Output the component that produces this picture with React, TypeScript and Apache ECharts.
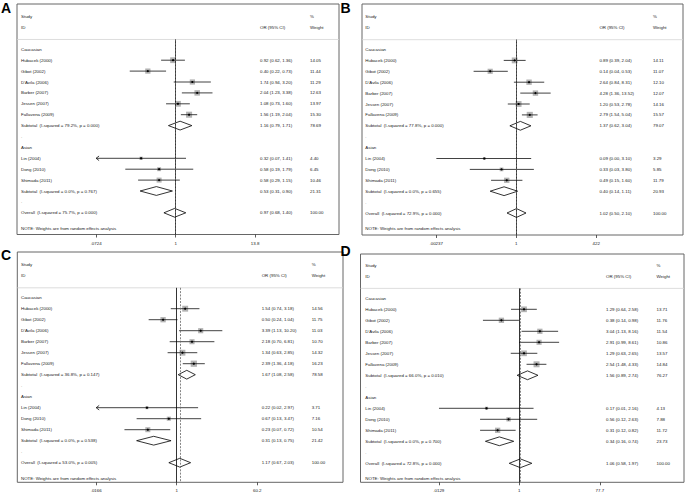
import React, { useEffect, useRef } from "react";
import * as echarts from "echarts";

// ---------- data ----------
const studies = ["Hubacek (2000)", "Gibot (2002)", "D'Avila (2006)", "Barber (2007)", "Jessen (2007)", "Fallavena (2009)", "Lin (2004)", "Dong (2010)", "Shimada (2011)"];
const studyGroup = ["Caucasian", "Caucasian", "Caucasian", "Caucasian", "Caucasian", "Caucasian", "Asian", "Asian", "Asian"];
const groups = ["Caucasian", "Asian"];
const panelLetters = ["A", "B", "C", "D"];

// Panel A
const orA = [0.92, 0.40, 1.74, 2.04, 1.08, 1.56, 0.32, 0.58, 0.58];
const loA = [0.62, 0.22, 0.94, 1.23, 0.73, 1.19, 0.07, 0.19, 0.29];
const hiA = [1.36, 0.73, 3.20, 3.38, 1.60, 2.04, 1.41, 1.79, 1.15];
const wtA = [14.05, 11.44, 11.29, 12.63, 13.97, 15.30, 4.40, 6.45, 10.46];
const subOrA = [1.16, 0.53];
const subLoA = [0.79, 0.31];
const subHiA = [1.71, 0.90];
const subWtA = [78.69, 21.31];
const subI2A = [79.2, 0.0];
const subPA = [0.000, 0.767];
const overallA = [0.97, 0.68, 1.40];
const overallStatsA = [75.7, 0.000];
const ticksA = [".0724", "1", "13.8"];

// Panel B
const orB = [0.89, 0.14, 2.64, 4.28, 1.20, 2.79, 0.09, 0.33, 0.49];
const loB = [0.39, 0.04, 0.84, 1.36, 0.53, 1.54, 0.0024, 0.03, 0.15];
const hiB = [2.04, 0.53, 8.31, 13.52, 2.78, 5.04, 3.10, 3.80, 1.60];
const wtB = [14.11, 11.07, 12.10, 12.07, 14.16, 15.57, 3.29, 5.85, 11.79];
const subOrB = [1.37, 0.40];
const subLoB = [0.62, 0.14];
const subHiB = [3.04, 1.11];
const subWtB = [79.07, 20.93];
const subI2B = [77.8, 0.0];
const subPB = [0.000, 0.655];
const overallB = [1.02, 0.50, 2.10];
const overallStatsB = [72.9, 0.000];
const ticksB = [".00237", "1", "422"];

// Panel C
const orC = [1.54, 0.50, 3.39, 2.18, 1.34, 2.39, 0.22, 0.67, 0.23];
const loC = [0.74, 0.24, 1.13, 0.70, 0.63, 1.36, 0.016, 0.13, 0.07];
const hiC = [3.18, 1.04, 10.20, 6.81, 2.85, 4.18, 2.97, 3.47, 0.72];
const wtC = [14.56, 11.75, 11.03, 10.70, 14.32, 16.23, 3.71, 7.16, 10.54];
const subOrC = [1.67, 0.31];
const subLoC = [1.08, 0.13];
const subHiC = [2.58, 0.75];
const subWtC = [78.58, 21.42];
const subI2C = [36.8, 0.0];
const subPC = [0.147, 0.538];
const overallC = [1.17, 0.67, 2.03];
const overallStatsC = [53.0, 0.005];
const ticksC = [".0166", "1", "60.2"];

// Panel D
const orD = [1.29, 0.38, 3.04, 2.91, 1.29, 2.54, 0.17, 0.56, 0.31];
const loD = [0.64, 0.14, 1.13, 0.99, 0.63, 1.48, 0.013, 0.12, 0.12];
const hiD = [2.58, 0.98, 8.16, 8.61, 2.65, 4.33, 2.16, 2.63, 0.82];
const wtD = [13.71, 11.76, 11.54, 10.86, 13.57, 14.84, 4.13, 7.88, 11.72];
const subOrD = [1.56, 0.34];
const subLoD = [0.89, 0.16];
const subHiD = [2.74, 0.74];
const subWtD = [76.27, 23.73];
const subI2D = [66.0, 0.0];
const subPD = [0.010, 0.700];
const overallD = [1.06, 0.58, 1.97];
const overallStatsD = [72.8, 0.000];
const ticksD = [".0129", "1", "77.7"];

const panelData = [
  { or: orA, lo: loA, hi: hiA, wt: wtA, subOr: subOrA, subLo: subLoA, subHi: subHiA, subWt: subWtA, subI2: subI2A, subP: subPA, overall: overallA, overallStats: overallStatsA, ticks: ticksA },
  { or: orB, lo: loB, hi: hiB, wt: wtB, subOr: subOrB, subLo: subLoB, subHi: subHiB, subWt: subWtB, subI2: subI2B, subP: subPB, overall: overallB, overallStats: overallStatsB, ticks: ticksB },
  { or: orC, lo: loC, hi: hiC, wt: wtC, subOr: subOrC, subLo: subLoC, subHi: subHiC, subWt: subWtC, subI2: subI2C, subP: subPC, overall: overallC, overallStats: overallStatsC, ticks: ticksC },
  { or: orD, lo: loD, hi: hiD, wt: wtD, subOr: subOrD, subLo: subLoD, subHi: subHiD, subWt: subWtD, subI2: subI2D, subP: subPD, overall: overallD, overallStats: overallStatsD, ticks: ticksD },
];

// ---------- layout ----------
const layouts = [
  { boxL: 17, boxT: 4, boxR: 339, boxB: 234.5, cx: 175.6, half: 79.5, row0: 49.3, rowH: 10.9, colL: 21, colCI: 260, colW: 310, letterX: 1, letterY: 0.5 },
  { boxL: 362, boxT: 4, boxR: 683, boxB: 235, cx: 516.2, half: 80, row0: 49.5, rowH: 10.9, colL: 365.3, colCI: 599.4, colW: 653, letterX: 340.5, letterY: 0.5 },
  { boxL: 17.3, boxT: 252, boxR: 343, boxB: 482.3, cx: 176.7, half: 80.5, row0: 297.7, rowH: 11.0, colL: 21, colCI: 261.7, colW: 311.7, letterX: 1, letterY: 247.5 },
  { boxL: 360.5, boxT: 254, boxR: 684, boxB: 482.3, cx: 519.3, half: 80.5, row0: 298.3, rowH: 11.0, colL: 365.3, colCI: 606, colW: 656.5, letterX: 340.5, letterY: 244 },
];

const FONT = '"Liberation Sans", Arial, Helvetica, sans-serif';
const FS = 4.4;
const SEP_ROW = -0.9;

type Row = {
  r: number;
  kind: "text" | "study" | "pooled";
  texts: { col: "L" | "CI" | "W"; s: string }[];
  or?: number;
  lo?: number;
  hi?: number;
  wt?: number;
};

const ciText = (o: number, l: number, h: number) => `${o.toFixed(2)} (${l.toFixed(2)}, ${h.toFixed(2)})`;

function buildRows(d: any): Row[] {
  const rows: Row[] = [];
  rows.push({ r: -3, kind: "text", texts: [{ col: "L", s: "Study" }, { col: "W", s: "%" }] });
  rows.push({ r: -2, kind: "text", texts: [{ col: "L", s: "ID" }, { col: "CI", s: "OR (95% CI)" }, { col: "W", s: "Weight" }] });
  let r = 0;
  groups.forEach((g, gi) => {
    rows.push({ r, kind: "text", texts: [{ col: "L", s: g }] });
    r++;
    studies.forEach((s, i) => {
      if (studyGroup[i] !== g) return;
      rows.push({
        r, kind: "study", or: d.or[i], lo: d.lo[i], hi: d.hi[i], wt: d.wt[i],
        texts: [{ col: "L", s }, { col: "CI", s: ciText(d.or[i], d.lo[i], d.hi[i]) }, { col: "W", s: d.wt[i].toFixed(2) }],
      });
      r++;
    });
    rows.push({
      r, kind: "pooled", or: d.subOr[gi], lo: d.subLo[gi], hi: d.subHi[gi], wt: d.subWt[gi],
      texts: [
        { col: "L", s: `Subtotal  (I-squared = ${d.subI2[gi].toFixed(1)}%, p = ${d.subP[gi].toFixed(3)})` },
        { col: "CI", s: ciText(d.subOr[gi], d.subLo[gi], d.subHi[gi]) },
        { col: "W", s: d.subWt[gi].toFixed(2) },
      ],
    });
    r++;
    rows.push({ r, kind: "text", texts: [{ col: "L", s: "." }] });
    r++;
  });
  rows.push({
    r, kind: "pooled", or: d.overall[0], lo: d.overall[1], hi: d.overall[2], wt: 100,
    texts: [
      { col: "L", s: `Overall  (I-squared = ${d.overallStats[0].toFixed(1)}%, p = ${d.overallStats[1].toFixed(3)})` },
      { col: "CI", s: ciText(d.overall[0], d.overall[1], d.overall[2]) },
      { col: "W", s: (100).toFixed(2) },
    ],
  });
  rows.push({ r: r + 1.4, kind: "text", texts: [{ col: "L", s: "NOTE: Weights are from random effects analysis" }] });
  return rows;
}

function buildOption() {
  const grid: any[] = [];
  const xAxis: any[] = [];
  const yAxis: any[] = [];
  const series: any[] = [];
  const elements: any[] = [];

  panelData.forEach((d, pi) => {
    const lay = layouts[pi];
    const M = parseFloat(d.ticks[2]);
    const L = Math.log(M);
    const rows = buildRows(d);
    const sepY = lay.row0 + SEP_ROW * lay.rowH;
    const yMax = (lay.boxB - lay.row0) / lay.rowH;

    grid.push({ left: lay.cx - lay.half, width: 2 * lay.half, top: sepY, height: lay.boxB - sepY, show: false });
    xAxis.push({
      gridIndex: pi, type: "value", min: -1, max: 1, interval: 1, position: "bottom",
      axisLine: { show: false, onZero: false },
      axisTick: { show: true, length: 3, lineStyle: { color: "#333", width: 0.8 } },
      splitLine: { show: false },
      axisLabel: { fontSize: FS, fontFamily: FONT, color: "#1a1a1a", margin: 6.5, formatter: (v: number) => d.ticks[Math.round(v) + 1] },
    });
    yAxis.push({ gridIndex: pi, type: "value", inverse: true, min: SEP_ROW, max: yMax, show: false });

    const colX: any = { L: lay.colL, CI: lay.colCI, W: lay.colW };

    series.push({
      type: "custom",
      coordinateSystem: "cartesian2d",
      xAxisIndex: pi,
      yAxisIndex: pi,
      clip: false,
      silent: true,
      data: rows.map((row) => [0, row.r]),
      renderItem: (params: any, api: any) => {
        const row = rows[params.dataIndex];
        const y = api.coord([0, row.r])[1];
        const xMin = api.coord([-1, row.r])[0];
        const xMax = api.coord([1, row.r])[0];
        const u = (v: number) => api.coord([Math.log(v) / L, row.r])[0];
        const children: any[] = [];
        if (row.kind === "study") {
          const xe = u(row.or!);
          const xl = Math.max(xMin, u(row.lo!));
          const xh = Math.min(xMax, u(row.hi!));
          const s = 1.55 * Math.sqrt(row.wt!);
          children.push({ type: "rect", shape: { x: xe - s / 2, y: y - s / 2, width: s, height: s }, style: { fill: "#b3b3b3" } });
          children.push({ type: "line", shape: { x1: xl, y1: y, x2: xh, y2: y }, style: { stroke: "#111", lineWidth: 0.8 } });
          children.push({ type: "circle", shape: { cx: xe, cy: y, r: 1.1 }, style: { fill: "#000" } });
          if (row.lo! < 1 / M) {
            children.push({ type: "polyline", shape: { points: [[xl + 3, y - 2.3], [xl, y], [xl + 3, y + 2.3]] }, style: { stroke: "#111", lineWidth: 0.8, fill: "none" } });
          }
        } else if (row.kind === "pooled") {
          const xe = u(row.or!);
          const xl = u(row.lo!);
          const xh = u(row.hi!);
          children.push({ type: "polygon", shape: { points: [[xl, y], [xe, y - 4.4], [xh, y], [xe, y + 4.4]] }, style: { fill: "#fff", stroke: "#000", lineWidth: 0.8 } });
        }
        row.texts.forEach((t) => {
          children.push({
            type: "text",
            style: { x: colX[t.col], y, text: t.s, fill: "#1a1a1a", fontSize: FS, fontFamily: FONT, align: "left", verticalAlign: "middle" },
          });
        });
        return { type: "group", children };
      },
      markLine: {
        silent: true,
        symbol: ["none", "none"],
        label: { show: false },
        animation: false,
        data: [
          { xAxis: 0, lineStyle: { color: "#000", width: 0.8, type: "solid" } },
          { xAxis: Math.log(d.overall[0]) / L, lineStyle: { color: "#666", width: 0.8, type: [2, 1.3] } },
        ],
      },
    });

    elements.push({
      type: "rect", silent: true,
      shape: { x: lay.boxL, y: lay.boxT, width: lay.boxR - lay.boxL, height: lay.boxB - lay.boxT },
      style: { fill: "none", stroke: "#666", lineWidth: 1 },
    });
    elements.push({
      type: "line", silent: true,
      shape: { x1: lay.boxL, y1: sepY, x2: lay.boxR, y2: sepY },
      style: { stroke: "#d4d4d4", lineWidth: 0.8 },
    });
    elements.push({
      type: "text", silent: true, left: lay.letterX, top: lay.letterY,
      style: { text: panelLetters[pi], fill: "#000", font: `bold 14px ${FONT}` },
    });
  });

  return {
    animation: false,
    backgroundColor: "#fff",
    grid, xAxis, yAxis, series,
    graphic: { elements },
  };
}

export default function App() {
  const ref = useRef<HTMLDivElement>(null);
  useEffect(() => {
    if (!ref.current) return;
    const chart = echarts.init(ref.current, undefined, { renderer: "svg" });
    chart.setOption(buildOption() as any);
    return () => chart.dispose();
  }, []);
  return <div ref={ref} style={{ position: "fixed", left: 0, top: 0, width: 685, height: 494, background: "#fff" }} />;
}
